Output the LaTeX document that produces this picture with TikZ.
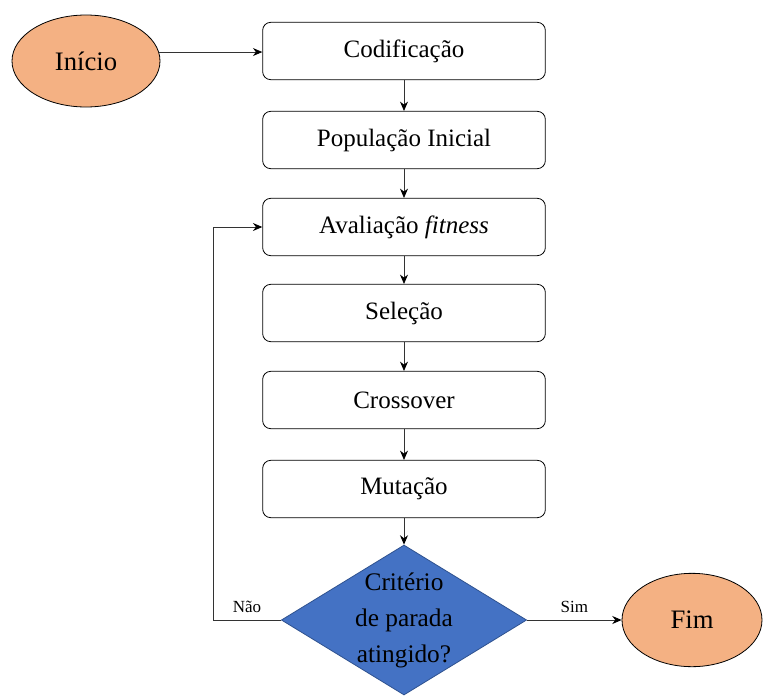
\documentclass[tikz,border=0pt]{standalone}
\usepackage{fontspec}
\setmainfont{Liberation Serif}
\usetikzlibrary{arrows.meta}
\usetikzlibrary{shapes.geometric}
\definecolor{pessego}{HTML}{F4B183}
\definecolor{azul}{HTML}{4472C4}
\definecolor{azulborda}{HTML}{2F528F}
\tikzset{
 etapa/.style={draw, rounded corners=6pt, line width=.6pt, minimum width=212pt, minimum height=43pt, font=\fontsize{18.75}{22}\selectfont},
 terminal/.style={ellipse, draw, fill=pessego, line width=.6pt, font=\fontsize{20}{24}\selectfont},
 decisao/.style={diamond, draw=azulborda, fill=azul, line width=.6pt, aspect=1.63, inner sep=-2pt, minimum width=184pt, minimum height=112.5pt, align=center, font=\fontsize{19}{27}\selectfont},
 liga/.style={black!80, line width=.6pt, -{Stealth[length=7pt, width=6pt, color=black]}},
 rotulo/.style={text=black, font=\fontsize{12.75}{14}\selectfont}
}
\begin{document}
\begin{tikzpicture}[x=.75pt, y=-.75pt]
\useasboundingbox (0,0) rectangle (763,696);
\node[terminal, minimum width=111pt, minimum height=69pt] (inicio) at (86,61) {Início};
\node[etapa] (cod) at (404,51) {Codificação};
\node[etapa] (pop) at (404,140) {População Inicial};
\node[etapa] (aval) at (404,227) {Avaliação \textit{fitness}};
\node[etapa] (sel) at (404,313) {Seleção};
\node[etapa] (cross) at (404,400) {Crossover};
\node[etapa] (mut) at (404,489) {Mutação};
\node[decisao] (crit) at (404,620) {Critério\\de parada\\atingido?};
\node[terminal, minimum width=105pt, minimum height=70pt] (fim) at (692,620) {Fim};
\coordinate (volta) at (213,620);
% fluxo principal
\draw[liga] (inicio.7) -- (inicio.7 -| cod.west);
\foreach \a/\b in {cod/pop, pop/aval, aval/sel, sel/cross, cross/mut, mut/crit}{
 \draw[liga] (\a) -- (\b);
}
% saidas da decisao
\draw[liga] (crit.east) -- node[rotulo, above, yshift=2pt]{Sim} (fim.west);
\draw[liga] (crit.west) -- node[rotulo, above, yshift=2pt]{Não} (volta) |- (aval.west);
\end{tikzpicture}
\end{document}
